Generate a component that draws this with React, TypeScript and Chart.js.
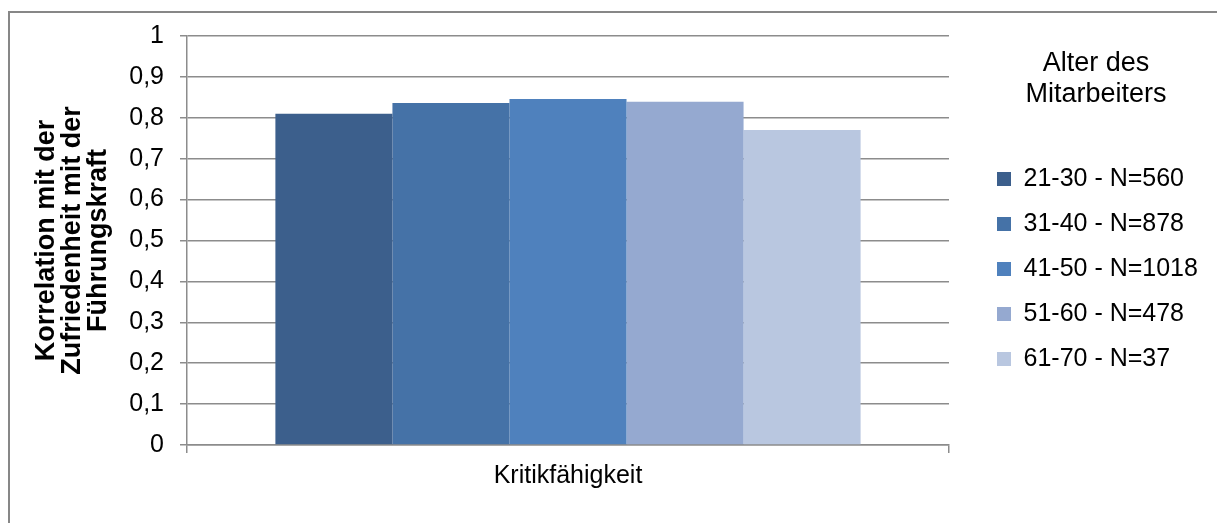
import React, { useEffect, useRef } from 'react';
import { Chart, registerables } from 'chart.js';

Chart.register(...registerables);

// Category, series and tick texts
const categories = ['Kritikfähigkeit'];
const ageGroups = ['21-30 - N=560', '31-40 - N=878', '41-50 - N=1018', '51-60 - N=478', '61-70 - N=37'];
const correlations = [0.81, 0.836, 0.846, 0.839, 0.77];
const groupColors = ['#3c5f8c', '#4572a7', '#4f81bd', '#95a9d0', '#b9c7e0'];
const yTickLabels = ['0', '0,1', '0,2', '0,3', '0,4', '0,5', '0,6', '0,7', '0,8', '0,9', '1'];
const yAxisTitle = ['Korrelation mit der', 'Zufriedenheit mit der', 'Führungskraft'];
const legendTitle = ['Alter des', 'Mitarbeiters'];

const FONT = "'Liberation Sans', Arial, Helvetica, sans-serif";
const GRID = '#8c8c8c';
const LEGEND_WIDTH = 238;

// The layout caps side boxes at a fraction of the width; widen the legend box
// afterwards so its title is centred over the full item column.
const legendBoxPlugin = {
  id: 'legendBox',
  afterLayout(chart: any) {
    const lg = chart.legend;
    if (lg) {
      lg.width = LEGEND_WIDTH;
      lg.right = lg.left + LEGEND_WIDTH;
    }
  },
};

export default function App() {
  const canvasRef = useRef<HTMLCanvasElement | null>(null);

  useEffect(() => {
    const canvas = canvasRef.current;
    if (!canvas) return;
    Chart.defaults.font.family = FONT;
    Chart.defaults.color = '#000';

    const chart = new Chart(canvas, {
      type: 'bar',
      data: {
        labels: categories,
        datasets: ageGroups.map((name, i) => ({
          label: name,
          data: [correlations[i]],
          backgroundColor: groupColors[i],
          borderWidth: 0,
          categoryPercentage: 0.768,
          barPercentage: 1,
        })),
      },
      plugins: [legendBoxPlugin],
      options: {
        responsive: false,
        animation: false,
        devicePixelRatio: 1,
        layout: { padding: { left: 10, top: 36, right: 46.6, bottom: 0 } },
        scales: {
          x: {
            grid: {
              offset: true,
              drawOnChartArea: false,
              drawTicks: true,
              tickLength: 8,
              color: GRID,
              lineWidth: 1.5,
            },
            border: { display: true, color: GRID, width: 1.5 },
            ticks: {
              color: '#000',
              padding: 8,
              font: { size: 25 },
            },
            afterFit: (scale: any) => {
              scale.height = 78;
            },
          },
          y: {
            min: 0,
            max: 1,
            grid: {
              color: GRID,
              lineWidth: 1.5,
              drawTicks: true,
              tickLength: 7,
            },
            border: { display: true, color: GRID, width: 1.5 },
            ticks: {
              stepSize: 0.1,
              color: '#000',
              padding: 16,
              font: { size: 25 },
              callback: (value: any) => yTickLabels[Math.round(Number(value) * 10)],
            },
            title: {
              display: true,
              text: yAxisTitle,
              color: '#000',
              font: { size: 27, weight: 'bold', lineHeight: 0.97 },
              padding: { top: 23, bottom: 0 },
            },
            afterFit: (scale: any) => {
              scale.width = 177;
            },
          },
          // empty spacer between the plot and the legend
          gap: {
            type: 'linear',
            position: 'right',
            display: true,
            grid: { display: false, drawTicks: false },
            border: { display: false },
            ticks: { display: false },
            afterFit: (scale: any) => {
              scale.width = 28;
            },
          },
        },
        plugins: {
          tooltip: { enabled: false },
          legend: {
            position: 'right',
            align: 'start',
            title: {
              display: true,
              text: legendTitle as any,
              color: '#000',
              font: { size: 27, lineHeight: 1.167 },
              padding: { top: 14, bottom: 65 },
            },
            labels: {
              color: '#000',
              font: { size: 25 },
              boxWidth: 14,
              boxHeight: 14,
              padding: 20,
            },
          },
        },
      } as any,
    });

    return () => chart.destroy();
  }, []);

  return (
    <div
      style={{
        position: 'fixed',
        left: 0,
        top: 0,
        width: 1217,
        height: 523,
        overflow: 'hidden',
        background: '#fff',
      }}
    >
      <div
        style={{
          position: 'absolute',
          left: 8,
          top: 11,
          width: 1300,
          height: 600,
          border: '2px solid #878787',
        }}
      />
      <canvas
        ref={canvasRef}
        width={1217}
        height={523}
        style={{ position: 'absolute', left: 0, top: 0, display: 'block' }}
      />
    </div>
  );
}
